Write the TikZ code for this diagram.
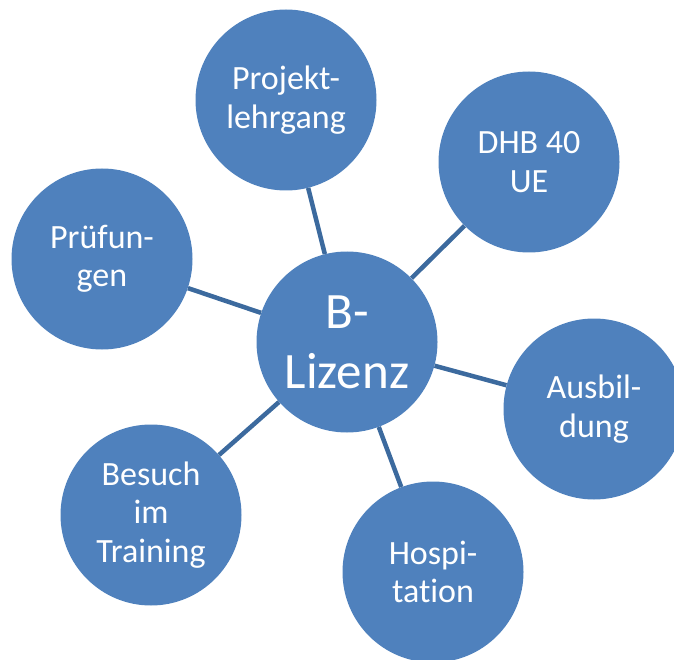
\documentclass[tikz,border=0pt]{standalone}
\usepackage{fontspec}
\setmainfont{Carlito}[Ligatures=NoCommon]
\definecolor{bubble}{HTML}{4F81BD}
\definecolor{link}{HTML}{3C6A9E}
\begin{document}
\begin{tikzpicture}[x=1pt,y=-1pt,
  bub/.style={circle,fill=bubble,minimum size=181pt,inner sep=0pt,text=white,align=center,font=\fontsize{34}{38.5}\selectfont},
  hub/.style={bub,font=\fontsize{51}{60}\selectfont},
  conn/.style={draw=link,line width=4.5pt}]
\useasboundingbox (0,0) rectangle (674,660);
\begin{scope}
\clip (0,0) rectangle (674,660);
\node[hub] (c) at (347,342) {B-\\Lizenz};
\node[bub] (p) at (286,100) {Projekt-\\lehrgang};
\node[bub] (d) at (529,162) {DHB 40\\UE};
\node[bub] (f) at (102,259) {Prüfun-\\gen};
\node[bub] (a) at (594,409) {Ausbil-\\dung};
\node[bub] (h) at (433,572) {Hospi-\\tation};
\node[bub] (b) at (151,515) {Besuch\\im\\Training};
\foreach \n in {p,d,f,a,h,b}{\draw[conn] (c) -- (\n);}
\end{scope}
\end{tikzpicture}
\end{document}
